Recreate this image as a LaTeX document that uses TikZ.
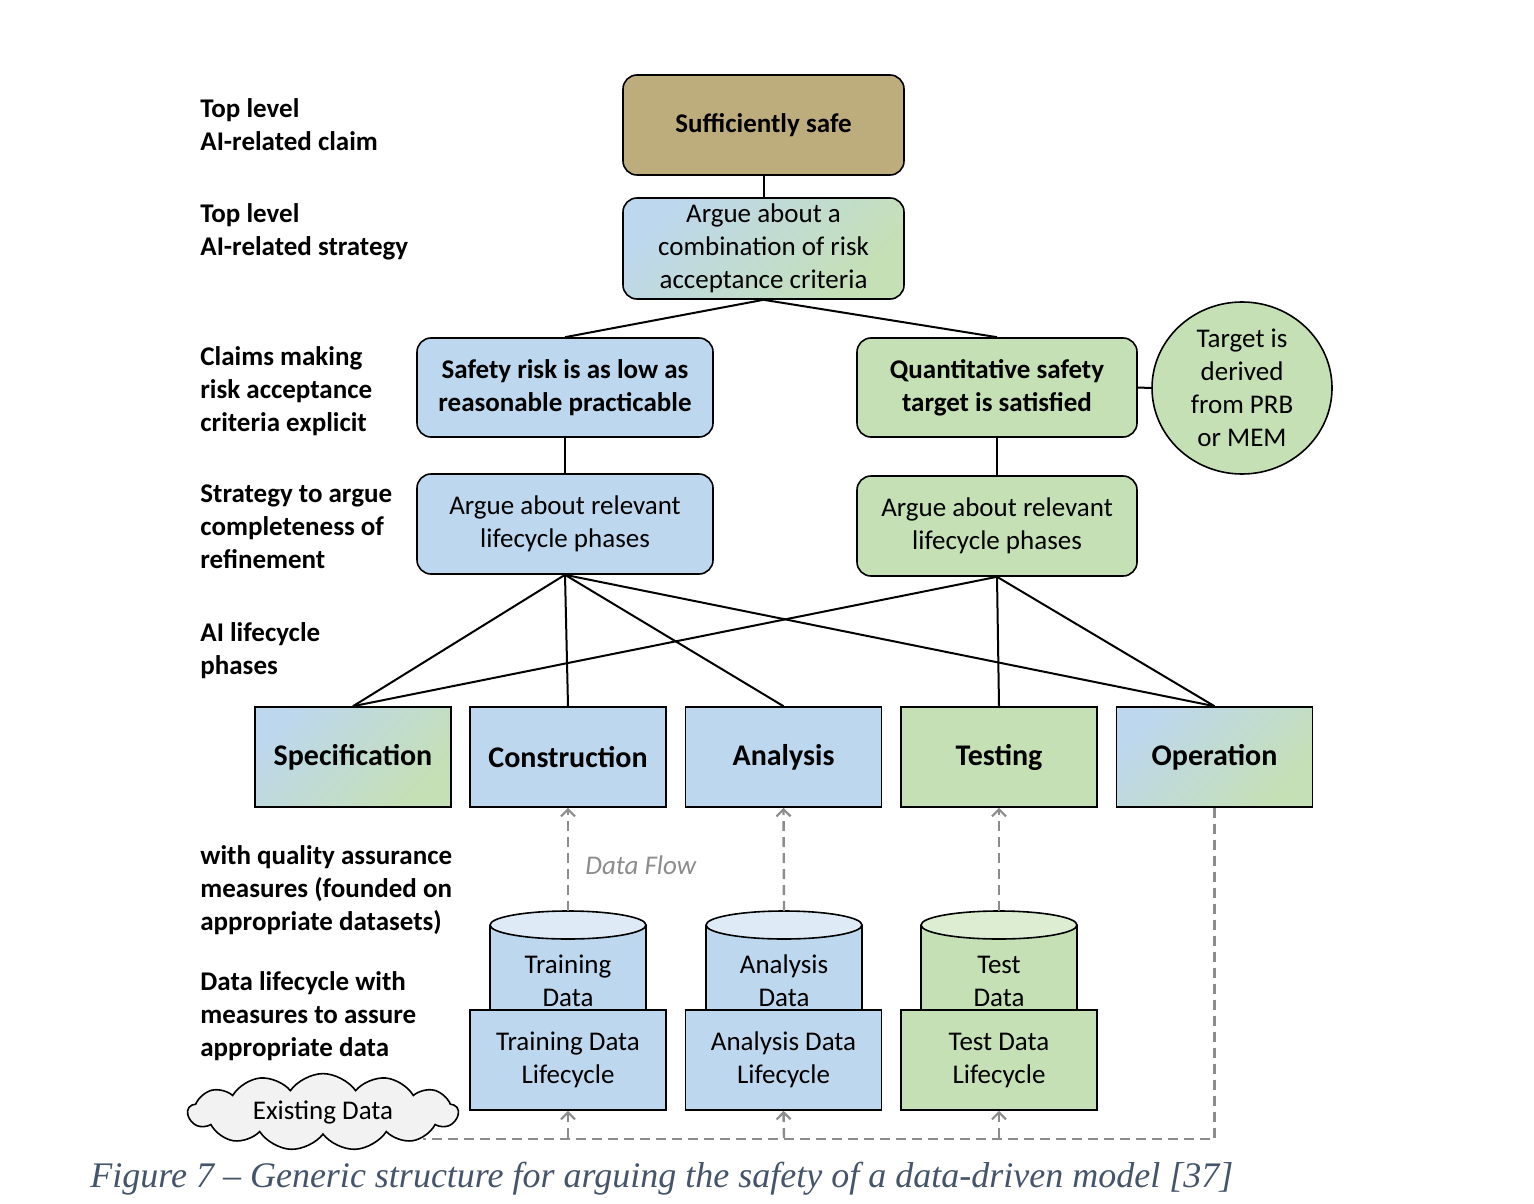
\documentclass[tikz,border=0pt]{standalone}
\usepackage{fontspec}
\setmainfont{Carlito}
\newfontfamily\capfont{Liberation Serif}
\usetikzlibrary{shapes.geometric,shapes.symbols,arrows.meta}
\definecolor{blueC}{HTML}{BDD7EE}
\definecolor{greenC}{HTML}{C5E0B4}
\definecolor{blueT}{HTML}{DEEBF7}
\definecolor{greenT}{HTML}{DDEDD2}
\definecolor{tanC}{HTML}{BEAD7C}
\definecolor{cloudC}{HTML}{F2F2F2}
\definecolor{flowC}{HTML}{8C8C8C}
\definecolor{capC}{HTML}{44546A}
\begin{document}
\begin{tikzpicture}[x=0.5pt,y=-0.5pt,
  base/.style={draw=black, line width=0.8pt, align=center, inner sep=2pt,
    font=\fontsize{13.5}{16.5}\selectfont},
  rbox/.style={base, rounded corners=7pt},
  bluebox/.style={fill=blueC},
  greenbox/.style={fill=greenC},
  gradbox/.style={top color=blueC, bottom color=greenC, shading angle=45},
  phase/.style={base, minimum width=98pt, minimum height=50pt,
    font=\bfseries\fontsize{15}{18}\selectfont},
  dlife/.style={base, minimum width=98pt, minimum height=50pt, fill=blueC},
  conn/.style={draw=black, line width=1pt},
  flow/.style={draw=flowC, line width=1.2pt, dash pattern=on 5pt off 3pt},
  flowarr/.style={flow, -{Straight Barb[length=3.5pt,width=7pt,line width=1.1pt]}},
  lbl/.style={anchor=north west, align=left, inner sep=0pt,
    font=\bfseries\fontsize{13.5}{16.5}\selectfont},
  cyltext/.style={align=center, inner sep=0pt, font=\fontsize{13.5}{16.5}\selectfont}
]
\useasboundingbox (0,0) rectangle (1534,1203);

% left labels
\node[lbl] (l1) at (200,98) {Top level\\AI-related claim};
\node[lbl] (l2) at (200,203) {Top level\\AI-related strategy};
\node[lbl] (l3) at (200,346) {Claims making\\risk acceptance\\criteria explicit};
\node[lbl] (l4) at (200,484) {Strategy to argue\\completeness of\\refinement};
\node[lbl] (l5) at (200,622) {AI lifecycle\\phases};
\node[lbl] (l6) at (200,845) {with quality assurance\\measures (founded on\\appropriate datasets)};
\node[lbl] (l7) at (200,971) {Data lifecycle with\\measures to assure\\appropriate data};

% top boxes
\node[rbox, fill=tanC, minimum width=140.5pt, minimum height=50pt, font=\bfseries\fontsize{13.5}{16.5}\selectfont]
  (safe) at (763.5,125) {Sufficiently safe};
\node[rbox, gradbox, minimum width=140.5pt, minimum height=50.5pt]
  (comb) at (763.5,248.5) {Argue about a\\combination of risk\\acceptance criteria};
\node[rbox, bluebox, minimum width=148pt, minimum height=49.5pt, font=\bfseries\fontsize{13.5}{16.5}\selectfont]
  (alarp) at (565,387.5) {Safety risk is as low as\\reasonable practicable};
\node[rbox, greenbox, minimum width=140pt, minimum height=49.5pt, font=\bfseries\fontsize{13.5}{16.5}\selectfont]
  (quant) at (997,387.5) {Quantitative safety\\target is satisfied};
\node[base, ellipse, fill=greenC, inner sep=0pt, minimum width=90pt, minimum height=86pt]
  (circ) at (1242,388) {Target is\\derived\\from PRB\\or MEM};
\node[rbox, bluebox, minimum width=148pt, minimum height=50pt]
  (argL) at (565,524) {Argue about relevant\\lifecycle phases};
\node[rbox, greenbox, minimum width=140pt, minimum height=50pt]
  (argR) at (997,526) {Argue about relevant\\lifecycle phases};

% phases
\node[phase, gradbox] (spec) at (353,757) {Specification};
\node[phase, bluebox] (constr) at (568,757) {Construction};
\node[phase, bluebox] (anal) at (783.5,757) {Analysis};
\node[phase, greenbox] (test) at (999,757) {Testing};
\node[phase, gradbox] (oper) at (1214.5,757) {Operation};

% connectors
\draw[conn] (safe.south) -- (comb.north);
\draw[conn] (comb.south) -- (alarp.north);
\draw[conn] (comb.south) -- (quant.north);
\draw[conn] (alarp.south) -- (argL.north);
\draw[conn] (quant.south) -- (argR.north);
\draw[conn] (quant.east) -- (circ.west);
\draw[conn] (argL.south) -- (spec.north);
\draw[conn] (argL.south) -- (constr.north);
\draw[conn] (argL.south) -- (anal.north);
\draw[conn] (argL.south) -- (oper.north);
\draw[conn] (argR.south) -- (spec.north);
\draw[conn] (argR.south) -- (test.north);
\draw[conn] (argR.south) -- (oper.north);

% bottom dashed line (drawn before cloud)
\coordinate (cldend) at (423,1139);
\draw[flow] (oper.south) |- (cldend);

% cylinders
\foreach \cx/\fc/\tc in {568/blueC/blueT, 784/blueC/blueT, 999/greenC/greenT}{
  \path[draw=black, line width=0.8pt, fill=\fc] (\cx-78,925) -- (\cx-78,1040)
     arc[x radius=78, y radius=14, start angle=180, end angle=0] -- (\cx+78,925);
  \path[draw=black, line width=0.8pt, fill=\tc] (\cx,925) ellipse[x radius=78, y radius=14];
}
\coordinate (tdtop) at (568,911);
\coordinate (adtop) at (784,911);
\coordinate (tstop) at (999,911);

% data lifecycle boxes
\node[dlife] (tdl) at (568,1060) {Training Data\\Lifecycle};
\node[dlife] (adl) at (783.5,1060) {Analysis Data\\Lifecycle};
\node[dlife, fill=greenC] (tsl) at (999,1060) {Test Data\\Lifecycle};

% cylinder texts (on top)
\node[cyltext] (tdc) at (568,981) {Training\\Data};
\node[cyltext] (adc) at (784,981) {Analysis\\Data};
\node[cyltext] (tsc) at (999,981) {Test\\Data};

% data flows
\draw[flowarr] (tdtop) -- (constr.south);
\draw[flowarr] (adtop) -- (anal.south);
\draw[flowarr] (tstop) -- (test.south);
\node[font=\itshape\fontsize{13.5}{16.5}\selectfont, text=flowC, anchor=west, inner sep=0pt]
  (dflow) at (585,865) {Data Flow};
\coordinate (b1) at (568,1138);
\coordinate (b2) at (784,1138);
\coordinate (b3) at (999,1138);
\draw[flowarr] (b1) -- (tdl.south);
\draw[flowarr] (b2) -- (adl.south);
\draw[flowarr] (b3) -- (tsl.south);

% cloud
\node[cloud, cloud puffs=13, cloud puff arc=110, aspect=3.7, draw=black, line width=0.8pt,
  fill=cloudC, minimum width=135pt, minimum height=36pt, inner sep=0pt,
  font=\fontsize{13.5}{16.5}\selectfont] (cloud) at (323,1112) {Existing Data};

% caption
\node[anchor=base west, inner sep=0pt, text=capC,
  font=\capfont\itshape\fontsize{18}{21}\selectfont] (cap) at (90,1187)
  {Figure 7 – Generic structure for arguing the safety of a data-driven model [37]};
\end{tikzpicture}
\end{document}
